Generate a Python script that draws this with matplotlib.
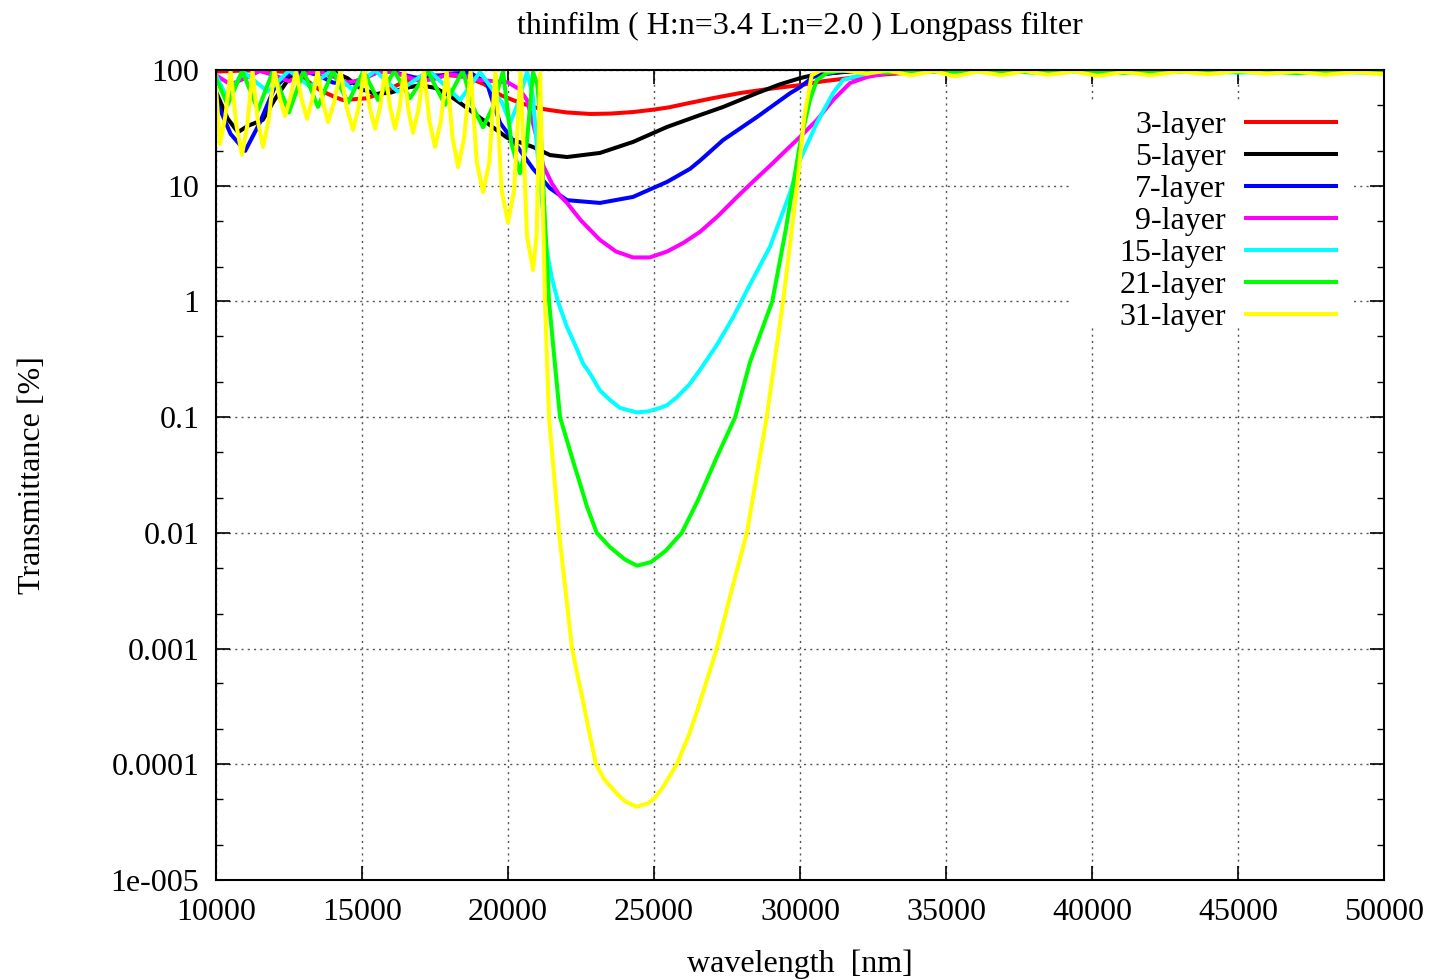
import matplotlib
matplotlib.use("Agg")
import matplotlib.pyplot as plt
from matplotlib.patches import Rectangle
from matplotlib.ticker import FixedLocator, NullFormatter

plt.rcParams['font.family'] = ['Liberation Serif', 'DejaVu Serif']

# wavelength [nm] / transmittance [%] for each stack
wl_3 = [10000, 11000, 12000, 12800, 13200, 13600, 14100, 14350, 15170, 15700, 16300, 16800,
        17330, 18000, 18600, 19200, 19727, 20170, 20412, 21000, 21440, 22000, 22810, 23500,
        24282, 25000, 25500, 26235, 27000, 27947, 29000, 30000, 30800, 31715, 32500, 33500,
        34500, 35500, 38000, 42000, 46000, 50000]
tr_3 = [97, 99, 98, 94, 78, 66, 58, 55, 57, 64, 76, 85,
        90, 90, 87, 75, 61, 55, 52, 47, 45, 43, 41.7, 42,
        43.3, 45.5, 47.5, 52, 57, 63.2, 69, 74, 80, 85.3, 90, 94,
        97, 98.5, 99.5, 99, 98.5, 97.5]

wl_5 = [10000, 10400, 10750, 11100, 11600, 12000, 12500, 13000, 13500, 14000, 14500, 15000,
        15500, 16000, 16500, 17000, 17500, 18000, 18357, 19145, 19967, 20860, 21440, 22020,
        23150, 24282, 25447, 26577, 27365, 28530, 29300, 30000, 30500, 31500, 32500, 34000,
        40000, 50000]
tr_5 = [65, 38, 29, 33, 37, 55, 85, 96, 99, 97, 85, 68,
        62, 64, 70, 74, 70, 60, 52, 37, 26, 21.6, 18.4, 17.7,
        19.2, 23.9, 32.2, 40.8, 47.9, 63.2, 75, 85, 91, 96, 98.5, 99.5,
        99.5, 99]

wl_7 = [10000, 10500, 11000, 11500, 12000, 12500, 13000, 13500, 14000, 14500, 15000, 15500,
        16000, 16500, 17000, 17500, 18000, 18700, 19280, 19490, 19727, 20310, 20860, 21440,
        22020, 23150, 24280, 25450, 26235, 26580, 27365, 28530, 29660, 30000, 30450, 30800,
        31500, 32500, 33000, 36000, 40000, 45000, 50000]
tr_7 = [55, 28, 20, 35, 70, 92, 98, 90, 78, 75, 84, 95,
        97, 90, 84, 87, 93, 95, 77, 52, 35, 22, 14, 9.5,
        7.5, 7.1, 8.0, 10.8, 14, 16.5, 24.8, 39.3, 63, 71, 87, 92,
        97, 99, 99.5, 99, 99.5, 98, 98]

wl_9 = [10000, 10500, 11000, 11500, 12000, 12500, 13000, 13500, 14000, 14500, 15000, 15500,
        16000, 16500, 17000, 17500, 18000, 18500, 19000, 19500, 20000, 20400, 20650, 21000,
        21200, 21500, 21780, 22020, 22500, 23150, 23700, 24280, 24860, 25450, 26000, 26580,
        27200, 27800, 28400, 29000, 29500, 30000, 30580, 31130, 31710, 32300, 33000,
        34000, 36000, 40000, 44000, 47000, 50000]
tr_9 = [90, 75, 85, 98, 90, 80, 92, 98, 88, 78, 82, 95,
        97, 88, 80, 84, 92, 88, 82, 80, 78, 68, 55, 25,
        15, 10.5, 8.2, 7.1, 5.0, 3.4, 2.7, 2.4, 2.4, 2.7, 3.2, 4.0,
        5.5, 7.8, 10.9, 15.1, 20, 26.4, 37, 55, 77, 87, 94,
        98, 100, 99, 100, 98, 97]

wl_15 = [10000, 10410, 10900, 11780, 12500, 13220, 13950, 14660, 15450, 16230, 17300, 18360,
         19040, 19800, 20070, 20350, 20650, 20850, 21000, 21150, 21325, 21500, 21710, 22020,
         22300, 22570, 22800, 23150, 23500, 23840, 24000, 24400, 24800, 25200, 25450, 25800,
         26200, 26580, 27150, 27710, 28220, 28970, 29660, 30000, 30580, 31130, 31470,
         32060, 32500, 34000, 35500, 37500, 40000, 42500, 45000, 47500, 50000]
tr_15 = [90, 55, 98, 65, 99, 72, 99, 68, 99, 65, 99, 55,
         96, 52, 35, 52, 96, 60, 20, 8, 2.8, 1.6, 1.0, 0.6,
         0.42, 0.29, 0.24, 0.17, 0.14, 0.12, 0.117, 0.11, 0.112, 0.12, 0.127, 0.15,
         0.19, 0.257, 0.42, 0.73, 1.3, 2.96, 8.7, 16.7, 35, 63, 82,
         90, 96, 99, 97, 99, 96, 99, 95, 98, 94]

wl_21 = [10000, 10400, 10900, 11438, 11950, 12500, 13000, 13493, 14000, 14520, 15050, 15548,
         16100, 16644, 17250, 17842, 18450, 18800, 19145, 19480, 19830, 20120, 20411, 20640,
         20860, 21000, 21100, 21250, 21405, 21600, 21782, 22010, 22250, 22500, 22700, 23040,
         23500, 24000, 24420, 24900, 25400, 25950, 26500, 27150, 27780, 28290, 29050, 29500,
         29760, 30000, 30340, 30580, 30920, 31300, 32000, 33000, 34000, 35000, 36500, 38000,
         39500, 41000, 42500, 44000, 45500, 47000, 48500, 50000]
tr_21 = [85, 50, 98, 45, 98, 43, 98, 48, 98, 52, 98, 55,
         98, 57, 98, 50, 99, 48, 32, 48, 97, 23, 12.8, 23,
         96, 75, 40, 6, 1.0, 0.3, 0.1, 0.064, 0.04, 0.025, 0.017, 0.01,
         0.0075, 0.0059, 0.0052, 0.0056, 0.007, 0.01, 0.019, 0.045, 0.1, 0.3, 1.0, 4,
         10, 23, 55, 82, 94, 98, 99, 95, 99, 96, 99, 95,
         98, 94, 98, 95, 98, 94, 97, 95]

wl_31 = [10000, 10137, 10320, 10500, 10700, 10890, 11070, 11250, 11430, 11610, 11800, 12000,
         12180, 12363, 12550, 12740, 12930, 13117, 13300, 13480, 13660, 13836, 14050, 14260,
         14480, 14692, 14880, 15070, 15260, 15446, 15620, 15790, 15960, 16131, 16290, 16440,
         16590, 16747, 16930, 17120, 17310, 17500, 17700, 17900, 18100, 18290, 18500, 18720,
         18930, 19145, 19360, 19570, 19780, 20000, 20210, 20430, 20650, 20857, 20980, 21100,
         21180, 21267, 21405, 21748, 22193, 22400, 22600, 22800, 23015, 23300, 23750, 24000,
         24400, 24800, 25050, 25300, 25550, 25780, 26200, 26500, 27150, 27700, 28180, 28860,
         29420, 29900, 30150, 30400, 30700, 31500, 32300, 33000, 33800, 34600, 35300, 36100,
         36900, 37700, 38500, 39400, 40200, 41100, 42000, 43000, 44000, 45000, 46000, 47000,
         48000, 49000, 50000]
tr_31 = [70, 23, 40, 98, 33, 18.5, 33, 98, 37, 21.6, 37, 99,
         58, 40, 58, 99, 56, 38, 56, 99, 53, 35.5, 53, 99,
         47, 30.3, 47, 99, 48, 31, 48, 99, 48, 31, 48, 99,
         45, 28.6, 45, 99, 36, 21.6, 36, 99, 26, 14.5, 26, 99,
         16, 8.8, 16, 99, 9.2, 4.8, 9.2, 99, 3.7, 1.87, 3.7, 94,
         10, 1.0, 0.1, 0.01, 0.001, 5.6e-4, 3.2e-4, 1.8e-4, 1e-4, 7.4e-5, 5.5e-5, 4.8e-5,
         4.3e-5, 4.6e-5, 5.2e-5, 6.3e-5, 8e-5, 1e-4, 1.8e-4, 3e-4, 0.001, 0.0035, 0.01, 0.1,
         1.0, 10, 40, 90, 99, 99, 93, 99, 90, 98, 88, 97,
         90, 98, 91, 97, 89, 96, 90, 97, 92, 98, 93, 97,
         91, 96, 92]

series = [
    ("3-layer", wl_3, tr_3, "#ff0000"),
    ("5-layer", wl_5, tr_5, "#000000"),
    ("7-layer", wl_7, tr_7, "#0000ff"),
    ("9-layer", wl_9, tr_9, "#ff00ff"),
    ("15-layer", wl_15, tr_15, "#00ffff"),
    ("21-layer", wl_21, tr_21, "#00ff00"),
    ("31-layer", wl_31, tr_31, "#ffff00"),
]

x_ticks = [10000, 15000, 20000, 25000, 30000, 35000, 40000, 45000, 50000]
y_ticks = [1e-5, 1e-4, 1e-3, 1e-2, 1e-1, 1, 10, 100]
y_labels = ["1e-005", "0.0001", "0.001", "0.01", "0.1", "1", "10", "100"]

FS = 23

fig = plt.figure(figsize=(14.34, 9.80), dpi=100)
ax = fig.add_axes([216 / 1434, 1 - 880 / 980, (1384 - 216) / 1434, (880 - 70) / 980])

for label, wl, tr, color in series:
    ax.plot(wl, tr, color=color, lw=2.9, label=label, solid_joinstyle='round', zorder=2)

ax.set_yscale('log')
ax.set_xlim(10000, 50000)
ax.set_ylim(1e-5, 100)

ax.set_xticks(x_ticks)
ax.set_xticklabels([str(v) for v in x_ticks])
ax.set_yticks(y_ticks)
ax.set_yticklabels(y_labels)
ax.yaxis.set_minor_locator(FixedLocator([m * 10.0 ** e for e in range(-5, 2) for m in (2, 5)]))
ax.yaxis.set_minor_formatter(NullFormatter())

ax.tick_params(axis='both', which='major', direction='in', length=10, width=1.2,
               top=True, right=True, labelsize=FS)
ax.tick_params(axis='x', which='major', pad=13)
ax.tick_params(axis='y', which='major', pad=12)
ax.tick_params(axis='both', which='minor', direction='in', length=5, width=1.0,
               top=True, right=True)

ax.grid(True, which='major', linestyle=(0, (1.5, 3)), color='#555555', linewidth=1.0)
for s in ax.spines.values():
    s.set_linewidth(1.5)

# blank key area: hides the grid behind the key
ax.add_patch(Rectangle((0.731, 0.685), 0.2416, 0.278, transform=ax.transAxes,
                       facecolor='white', edgecolor='none', zorder=1.8))

ax.set_title("thinfilm ( H:n=3.4 L:n=2.0 ) Longpass filter", fontsize=FS, pad=26)
ax.set_xlabel("wavelength  [nm]", fontsize=FS, labelpad=16)
ax.set_ylabel("Transmittance [%]", fontsize=FS, labelpad=46)

leg = ax.legend(loc='upper right', bbox_to_anchor=(0.967, 0.962), markerfirst=False,
                fontsize=FS, handlelength=2.82, handletextpad=0.63, labelspacing=0.085,
                frameon=False, borderpad=0.3, borderaxespad=0)
leg._legend_box.align = "right"

fig.savefig("out.png", dpi=100)
